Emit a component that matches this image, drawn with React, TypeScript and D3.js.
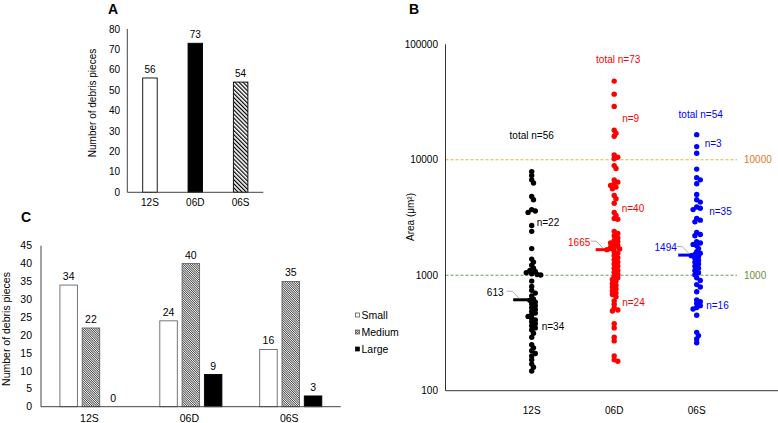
import React from "react";
import * as d3 from "d3";

// ---------- DATA ----------
const CATS = ["12S", "06D", "06S"];
const totalCounts = [56, 73, 54];
const SIZE_CLASSES = ["Small", "Medium", "Large"];
const smallCounts = [34, 24, 16];
const mediumCounts = [22, 40, 35];
const largeCounts = [0, 9, 3];
const aTicks = [0, 10, 20, 30, 40, 50, 60, 70, 80];
const cTicks = [0, 5, 10, 15, 20, 25, 30, 35, 40, 45];
const bTicks = [100, 1000, 10000, 100000];
const thresholds = [10000, 1000];
const medians = [613, 1665, 1494];

const area12S = [
  7900, 7300, 6700, 6300, 4800, 4500, 3700, 3600, 3500, 2700, 2400, 1700, 1380, 1300, 1220, 1150,
  1100, 1080, 1050, 1030, 1015, 1005,
  890, 800, 740, 700, 660, 620, 606, 585, 565, 545, 525, 505, 488, 470, 455, 440, 425, 410, 395,
  380, 365, 350, 335, 315, 290, 250, 235, 222, 210, 200, 185, 170, 160, 148,
];
const area06D = [
  48000, 37000, 29000, 18000, 17000, 16000, 11000, 10500, 10200,
  8900, 8400, 6700, 6400, 6200, 6000, 5800, 5600, 4900, 4600, 4200, 3500, 3300, 3100, 3050, 2400,
  2300, 2200, 2100, 2000, 1950, 1900, 1850, 1800, 1750, 1720, 1690, 1665, 1600, 1550, 1480, 1420,
  1360, 1300, 1250, 1200, 1150, 1100, 1060, 1020,
  980, 950, 920, 890, 850, 820, 790, 760, 730, 700, 680, 650, 600, 560, 520, 500, 490, 380, 350,
  290, 270, 200, 185, 180,
];
const area06S = [
  16500, 13000, 11400,
  8300, 7000, 6700, 6200, 5000, 4500, 4300, 3900, 3800, 3700, 3100, 3000, 2900, 2350, 2250, 2200,
  1950, 1900, 1850, 1800, 1700, 1600, 1550, 1510, 1478, 1450, 1400, 1350, 1300, 1250, 1200, 1150,
  1100, 1050, 1010,
  950, 900, 830, 790, 720, 610, 590, 570, 545, 525, 510, 450, 320, 300, 280, 260,
];
const areas = [area12S, area06D, area06S];

// ---------- STYLE / LAYOUT ----------
const FONT = "'Liberation Sans', Arial, Helvetica, sans-serif";
const groupColors = ["#000000", "#FF0000", "#0000FF"];
const thresholdLineColors = ["#E2B54A", "#6F9A4F"];
const thresholdLabelColors = ["#E07B28", "#6E8F3A"];

// annotation placement: dx from column centre, y given in data units
const totalLabelPos = [
  { dx: 0, v: 16070 },
  { dx: 4, v: 74100 },
  { dx: 4, v: 24770 },
];
// [large(>10000), medium, small] n-labels
const nLabelPos = [
  [null, { dx: 5, v: 2850 }, { dx: 10, v: 363 }],
  [{ dx: 8, v: 22860 }, { dx: 7.5, v: 3770 }, { dx: 8, v: 583 }],
  [{ dx: 8, v: 13890 }, { dx: 12.5, v: 3530 }, { dx: 9.5, v: 542 }],
];
const medianLabelDx = [-36.5, -35, -31];
const leaderDx = [0, 1.5, 5];

function swarm(values: number[], cx: number, y: (v: number) => number, minD: number, step: number) {
  const pts = values.map((v) => ({ v, y: y(v), x: cx })).sort((a, b) => a.y - b.y);
  const placed: { x: number; y: number }[] = [];
  for (const p of pts) {
    let k = 0;
    let x = cx;
    while (k < 40) {
      const off = k === 0 ? 0 : Math.ceil(k / 2) * step * (k % 2 ? 1 : -1);
      x = cx + off;
      if (placed.every((q) => (q.x - x) ** 2 + (q.y - p.y) ** 2 >= minD * minD)) break;
      k++;
    }
    placed.push({ x, y: p.y });
  }
  return placed;
}

function PanelA() {
  const y = d3.scaleLinear().domain([0, 80]).range([192.3, 29]);
  const x = d3.scaleBand().domain(CATS).range([127.3, 263.3]);
  const bw = 14.5;
  const fills = ["#fff", "#000", "url(#hatchA)"];
  return (
    <g>
      <text x={108} y={14} fontSize={14} fontWeight="bold">A</text>
      {CATS.map((c, i) => {
        const cx = x(c)! + x.bandwidth() / 2;
        return (
          <g key={c}>
            <rect x={cx - bw / 2} y={y(totalCounts[i])} width={bw} height={y(0) - y(totalCounts[i])}
              fill={fills[i]} stroke="#000" strokeWidth={0.9} />
            <text x={cx} y={y(totalCounts[i]) - 5} textAnchor="middle" fontSize={10}>{totalCounts[i]}</text>
            <text x={cx} y={205.5} textAnchor="middle" fontSize={10}>{c}</text>
          </g>
        );
      })}
      <line x1={127.3} x2={127.3} y1={y(80)} y2={y(0)} stroke="#444" />
      <line x1={127.3} x2={263.3} y1={y(0)} y2={y(0)} stroke="#444" />
      {aTicks.map((t) => (
        <text key={t} x={120} y={y(t)} dy="0.35em" textAnchor="end" fontSize={10}>{t}</text>
      ))}
      <text transform={`translate(95.5,103) rotate(-90)`} textAnchor="middle" fontSize={10}>Number of debris pieces</text>
    </g>
  );
}

function PanelC() {
  const y = d3.scaleLinear().domain([0, 45]).range([406.7, 245.7]);
  const x = d3.scaleBand().domain(CATS).range([41, 340.7]);
  const sub = d3.scalePoint().domain(SIZE_CLASSES).range([-22.3, 22.3]);
  const bw = 17.5;
  const series = [smallCounts, mediumCounts, largeCounts];
  const fills = ["#fff", "url(#hatchC)", "#000"];
  const strokes = ["#666", "#666", "#000"];
  return (
    <g>
      <text x={21} y={222} fontSize={14} fontWeight="bold">C</text>
      {CATS.map((c, i) => {
        const cx = x(c)! + x.bandwidth() / 2;
        return (
          <g key={c}>
            {SIZE_CLASSES.map((s, j) => {
              const v = series[j][i];
              const bx = cx + sub(s)!;
              return (
                <g key={s}>
                  {v > 0 && (
                    <rect x={bx - bw / 2} y={y(v)} width={bw} height={y(0) - y(v)}
                      fill={fills[j]} stroke={strokes[j]} strokeWidth={0.9} />
                  )}
                  <text x={bx} y={y(v) - 5} textAnchor="middle" fontSize={10.5}>{v}</text>
                </g>
              );
            })}
            <text x={cx - 1.5} y={422} textAnchor="middle" fontSize={10.5}>{c}</text>
          </g>
        );
      })}
      <line x1={41} x2={41} y1={y(45)} y2={y(0)} stroke="#444" />
      <line x1={41} x2={340.7} y1={y(0)} y2={y(0)} stroke="#444" />
      {cTicks.map((t) => (
        <text key={t} x={32} y={y(t)} dy="0.35em" textAnchor="end" fontSize={10.5}>{t}</text>
      ))}
      <text transform={`translate(10,329) rotate(-90)`} textAnchor="middle" fontSize={10.5}>Number of debris pieces</text>
      {SIZE_CLASSES.map((s, j) => (
        <g key={s} transform={`translate(355.5,${315 + j * 17})`}>
          <rect x={0} y={-2} width={4} height={4} fill={fills[j]} stroke={j === 2 ? "#000" : "#444"} strokeWidth={0.7} />
          <text x={6} y={0} dy="0.35em" fontSize={10.5}>{s}</text>
        </g>
      ))}
    </g>
  );
}

function PanelB() {
  const y = d3.scaleLog().domain([100, 100000]).range([390.7, 44.3]);
  const x = d3.scalePoint().domain(CATS).range([531.7, 696.7]);
  const axX = 445.5;
  const lineEnd = 737;
  const r = 2.7;
  const nSeries = [largeCounts, mediumCounts, smallCounts];
  return (
    <g>
      <text x={409} y={14} fontSize={14} fontWeight="bold">B</text>
      {thresholds.map((t, i) => (
        <g key={t}>
          <line x1={axX} x2={lineEnd} y1={y(t)} y2={y(t)} stroke={thresholdLineColors[i]} strokeWidth={1.2} strokeDasharray="3,2" />
          <text x={744} y={y(t)} dy="0.35em" fontSize={10} fill={thresholdLabelColors[i]}>{t}</text>
        </g>
      ))}
      <line x1={axX} x2={axX} y1={y(100000)} y2={y(100)} stroke="#333" />
      <line x1={axX} x2={778} y1={y(100)} y2={y(100)} stroke="#333" />
      {bTicks.map((t) => (
        <text key={t} x={438} y={y(t)} dy="0.35em" textAnchor="end" fontSize={10}>{t}</text>
      ))}
      <text transform={`translate(414,217) rotate(-90)`} textAnchor="middle" fontSize={10}>Area (μm²)</text>
      {CATS.map((c, i) => {
        const cx = x(c)!;
        const col = groupColors[i];
        const pts = swarm(areas[i], cx, (v) => y(v), 2 * r * 0.62, 1.8);
        const my = y(medians[i]);
        const ld = leaderDx[i];
        return (
          <g key={c}>
            <text x={cx} y={410} dy="0.35em" textAnchor="middle" fontSize={10}>{c}</text>
            {pts.map((p, k) => (
              <circle key={k} cx={p.x} cy={p.y} r={r} fill={col} />
            ))}
            <line x1={cx - 18.5} x2={cx} y1={my} y2={my} stroke={col} strokeWidth={3} />
            <path d={`M${cx - 25 + ld},${my - 8.5} L${cx - 19.5 + ld},${my - 8.5} L${cx - 12.5 + ld},${my - 1.5}`}
              fill="none" stroke="#999" strokeWidth={0.8} />
            <text x={cx + medianLabelDx[i]} y={my - 7.5} dy="0.35em" textAnchor="middle" fontSize={10} fill={col}>{medians[i]}</text>
            <text x={cx + totalLabelPos[i].dx} y={y(totalLabelPos[i].v)} dy="0.35em" textAnchor="middle" fontSize={10} fill={col}>
              total n={totalCounts[i]}
            </text>
            {nLabelPos[i].map((lp, j) =>
              lp ? (
                <text key={j} x={cx + lp.dx} y={y(lp.v)} dy="0.35em" fontSize={10} fill={col}>n={nSeries[j][i]}</text>
              ) : null
            )}
          </g>
        );
      })}
    </g>
  );
}

export default function App() {
  return (
    <svg width={778} height={423} style={{ position: "absolute", left: 0, top: 0, background: "#fff" }}
      fontFamily={FONT} fill="#000">
      <defs>
        <pattern id="hatchA" patternUnits="userSpaceOnUse" width={2.9} height={2.9} patternTransform="rotate(-45)">
          <rect width={2.9} height={2.9} fill="#fff" />
          <line x1={0.6} y1={0} x2={0.6} y2={2.9} stroke="#000" strokeWidth={1.2} />
        </pattern>
        <pattern id="hatchC" patternUnits="userSpaceOnUse" width={1.6} height={1.6} patternTransform="rotate(-45)">
          <rect width={1.6} height={1.6} fill="#fff" />
          <line x1={0.4} y1={0} x2={0.4} y2={1.6} stroke="#333" strokeWidth={0.75} />
        </pattern>
      </defs>
      <rect width={778} height={423} fill="#fff" />
      <PanelA />
      <PanelC />
      <PanelB />
    </svg>
  );
}
